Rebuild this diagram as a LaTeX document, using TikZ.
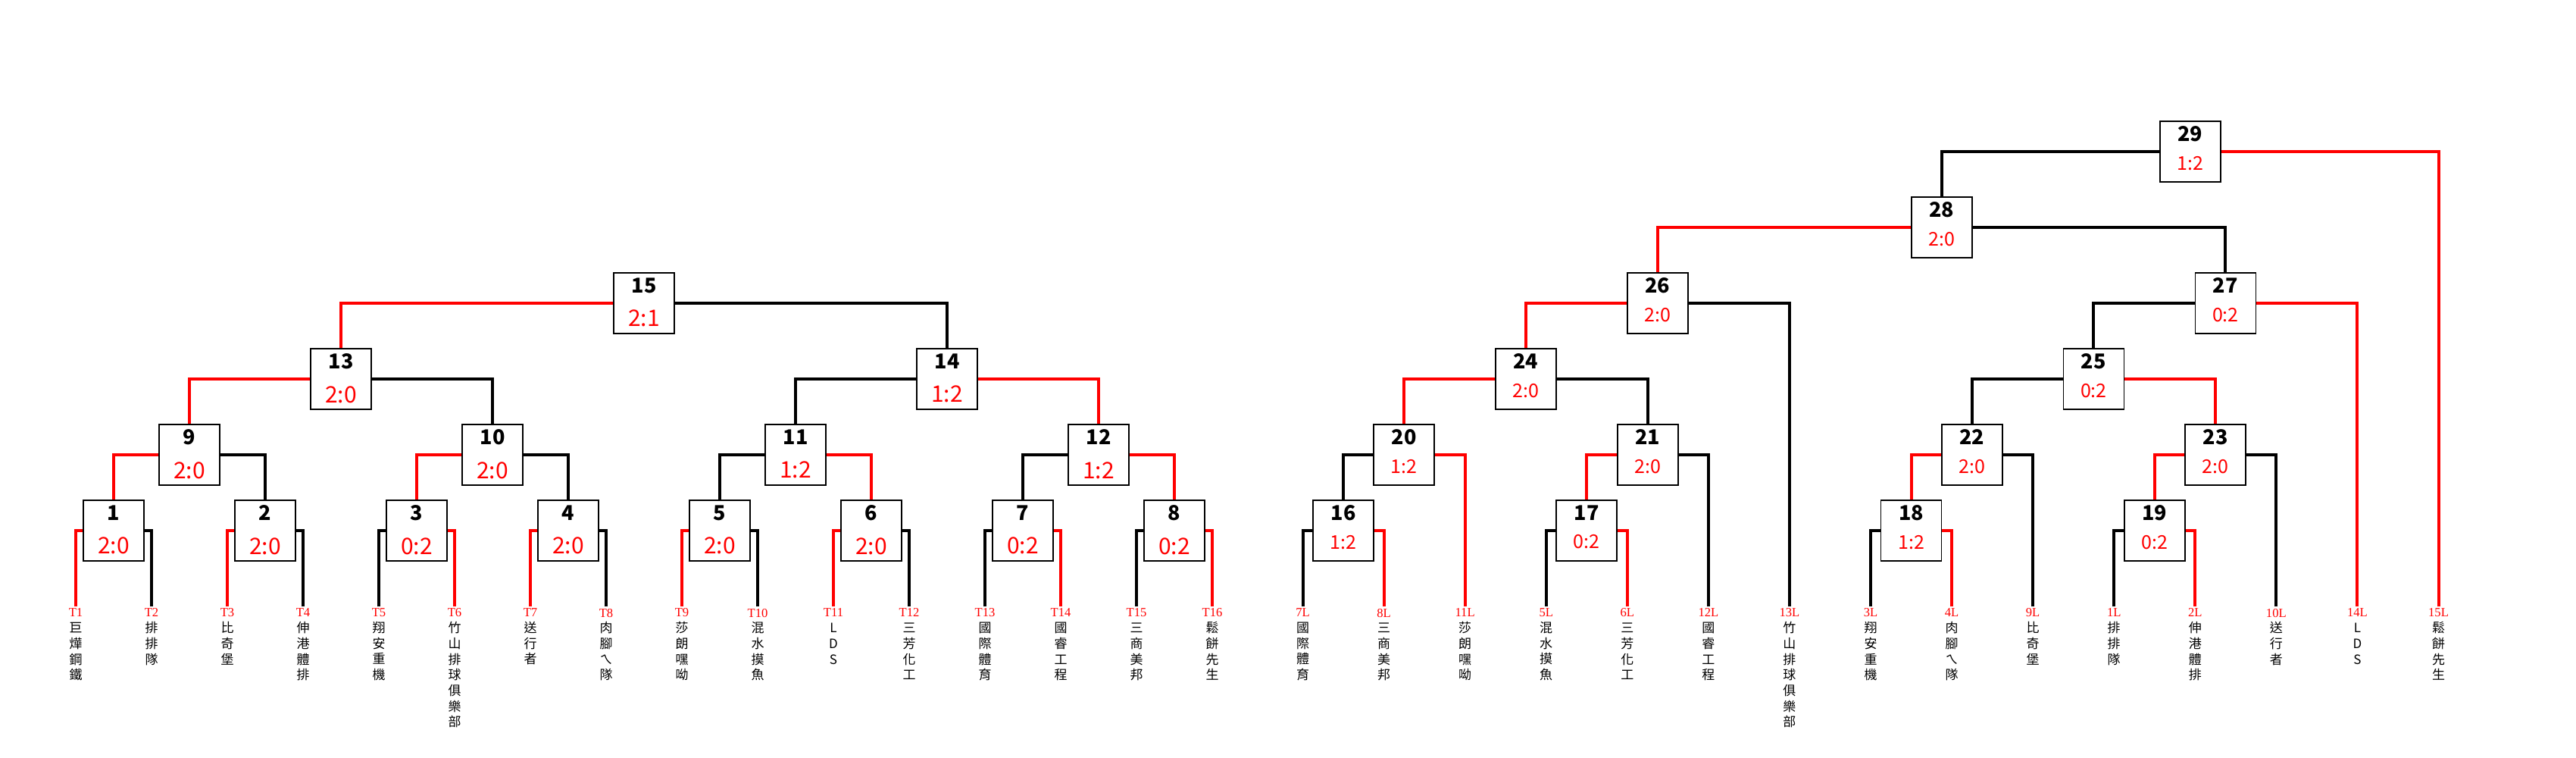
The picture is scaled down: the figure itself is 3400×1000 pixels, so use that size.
\documentclass[tikz,border=0pt]{standalone}
\usepackage{fontspec}
\newfontfamily\cjk{Noto Sans CJK TC}
\newfontfamily\idfont{Liberation Serif}

\tikzset{
  win/.style={draw=red, line width=4pt},
  lose/.style={draw=black, line width=4pt},
  match/.style={draw, line width=1.8pt, fill=white, minimum width=80pt, minimum height=80pt,
    inner sep=0pt, align=center, font=\cjk\fontsize{27}{27}\selectfont},
  wbox/.style={match, text depth=2pt},
  lbox/.style={match, text depth=9pt},
  leaf/.style={anchor=north, inner sep=0pt, outer ysep=3pt, align=center,
    font=\cjk\fontsize{17}{20.7}\selectfont},
}
\newcommand\wscore[1]{{\color{red}\fontsize{30}{30}\selectfont #1}}
\newcommand\lscore[1]{{\color{red}\fontsize{25}{25}\selectfont #1}}
\newcommand\tid[1]{{\idfont\fontsize{16.6}{20.7}\selectfont\color{red}#1}}

\begin{document}
\begin{tikzpicture}[x=1pt, y=-1pt]
    \useasboundingbox (0,0) rectangle (3400,1000);
    % winners bracket
    \begin{scope}[every node/.style={wbox}]
        \node (m1) at (150,700) {{\bfseries 1}\\[17.25pt]\wscore{2:0}};
        \node (m2) at (350,700) {{\bfseries 2}\\[17.25pt]\wscore{2:0}};
        \node (m3) at (550,700) {{\bfseries 3}\\[17.25pt]\wscore{0:2}};
        \node (m4) at (750,700) {{\bfseries 4}\\[17.25pt]\wscore{2:0}};
        \node (m5) at (950,700) {{\bfseries 5}\\[17.25pt]\wscore{2:0}};
        \node (m6) at (1150,700) {{\bfseries 6}\\[17.25pt]\wscore{2:0}};
        \node (m7) at (1350,700) {{\bfseries 7}\\[17.25pt]\wscore{0:2}};
        \node (m8) at (1550,700) {{\bfseries 8}\\[17.25pt]\wscore{0:2}};
        \node (m9) at (250,600) {{\bfseries 9}\\[17.25pt]\wscore{2:0}};
        \node (m10) at (650,600) {{\bfseries 10}\\[17.25pt]\wscore{2:0}};
        \node (m11) at (1050,600) {{\bfseries 11}\\[17.25pt]\wscore{1:2}};
        \node (m12) at (1450,600) {{\bfseries 12}\\[17.25pt]\wscore{1:2}};
        \node (m13) at (450,500) {{\bfseries 13}\\[17.25pt]\wscore{2:0}};
        \node (m14) at (1250,500) {{\bfseries 14}\\[17.25pt]\wscore{1:2}};
        \node (m15) at (850,400) {{\bfseries 15}\\[17.25pt]\wscore{2:1}};
    \end{scope}
    % losers bracket
    \begin{scope}[every node/.style={lbox}]
        \node (m16) at (1773.05,700) {{\bfseries 16}\\[10.25pt]\lscore{1:2}};
        \node (m17) at (2094.25,700) {{\bfseries 17}\\[10.25pt]\lscore{0:2}};
        \node (m18) at (2522.55,700) {{\bfseries 18}\\[10.25pt]\lscore{1:2}};
        \node (m19) at (2843.75,700) {{\bfseries 19}\\[10.25pt]\lscore{0:2}};
        \node (m20) at (1853.3,600) {{\bfseries 20}\\[10.25pt]\lscore{1:2}};
        \node (m21) at (2174.6,600) {{\bfseries 21}\\[10.25pt]\lscore{2:0}};
        \node (m22) at (2602.8,600) {{\bfseries 22}\\[10.25pt]\lscore{2:0}};
        \node (m23) at (2924,600) {{\bfseries 23}\\[10.25pt]\lscore{2:0}};
        \node (m24) at (2013.95,500) {{\bfseries 24}\\[10.25pt]\lscore{2:0}};
        \node (m25) at (2763.4,500) {{\bfseries 25}\\[10.25pt]\lscore{0:2}};
        \node (m26) at (2187.9,400) {{\bfseries 26}\\[10.25pt]\lscore{2:0}};
        \node (m27) at (2937.4,400) {{\bfseries 27}\\[10.25pt]\lscore{0:2}};
        \node (m28) at (2562.65,300) {{\bfseries 28}\\[10.25pt]\lscore{2:0}};
        \node (m29) at (2890.6,200) {{\bfseries 29}\\[10.25pt]\lscore{1:2}};
    \end{scope}
    % teams
    \begin{scope}[every node/.style={leaf}]
        \node (t1) at (100,800) {\tid{T1}\\巨\\燁\\鋼\\鐵};
        \node (t2) at (200,800) {\tid{T2}\\排\\排\\隊};
        \node (t3) at (300,800) {\tid{T3}\\比\\奇\\堡};
        \node (t4) at (400,800) {\tid{T4}\\伸\\港\\體\\排};
        \node (t5) at (500,800) {\tid{T5}\\翔\\安\\重\\機};
        \node (t6) at (600,800) {\tid{T6}\\竹\\山\\排\\球\\俱\\樂\\部};
        \node (t7) at (700,800) {\tid{T7}\\送\\行\\者};
        \node (t8) at (800,800) {\tid{T8}\\肉\\腳\\ㄟ\\隊};
        \node (t9) at (900,800) {\tid{T9}\\莎\\朗\\嘿\\呦};
        \node (t10) at (1000,800) {\tid{T10}\\混\\水\\摸\\魚};
        \node (t11) at (1100,800) {\tid{T11}\\L\\D\\S};
        \node (t12) at (1200,800) {\tid{T12}\\三\\芳\\化\\工};
        \node (t13) at (1300,800) {\tid{T13}\\國\\際\\體\\育};
        \node (t14) at (1400,800) {\tid{T14}\\國\\睿\\工\\程};
        \node (t15) at (1500,800) {\tid{T15}\\三\\商\\美\\邦};
        \node (t16) at (1600,800) {\tid{T16}\\鬆\\餅\\先\\生};
        \node (l7) at (1719.5,800) {\tid{7L}\\國\\際\\體\\育};
        \node (l8) at (1826.6,800) {\tid{8L}\\三\\商\\美\\邦};
        \node (l11) at (1933.6,800) {\tid{11L}\\莎\\朗\\嘿\\呦};
        \node (l5) at (2040.7,800) {\tid{5L}\\混\\水\\摸\\魚};
        \node (l6) at (2147.8,800) {\tid{6L}\\三\\芳\\化\\工};
        \node (l12) at (2254.9,800) {\tid{12L}\\國\\睿\\工\\程};
        \node (l13) at (2361.9,800) {\tid{13L}\\竹\\山\\排\\球\\俱\\樂\\部};
        \node (l3) at (2469,800) {\tid{3L}\\翔\\安\\重\\機};
        \node (l4) at (2576.1,800) {\tid{4L}\\肉\\腳\\ㄟ\\隊};
        \node (l9) at (2683.1,800) {\tid{9L}\\比\\奇\\堡};
        \node (l1) at (2790.2,800) {\tid{1L}\\排\\排\\隊};
        \node (l2) at (2897.3,800) {\tid{2L}\\伸\\港\\體\\排};
        \node (l10) at (3004.3,800) {\tid{10L}\\送\\行\\者};
        \node (l14) at (3111.4,800) {\tid{14L}\\L\\D\\S};
        \node (l15) at (3218.5,800) {\tid{15L}\\鬆\\餅\\先\\生};
    \end{scope}
    % winners lines
    \draw[win] (t1.north) |- (m1.west);
    \draw[lose] (t2.north) |- (m1.east);
    \draw[win] (t3.north) |- (m2.west);
    \draw[lose] (t4.north) |- (m2.east);
    \draw[lose] (t5.north) |- (m3.west);
    \draw[win] (t6.north) |- (m3.east);
    \draw[win] (t7.north) |- (m4.west);
    \draw[lose] (t8.north) |- (m4.east);
    \draw[win] (t9.north) |- (m5.west);
    \draw[lose] (t10.north) |- (m5.east);
    \draw[win] (t11.north) |- (m6.west);
    \draw[lose] (t12.north) |- (m6.east);
    \draw[lose] (t13.north) |- (m7.west);
    \draw[win] (t14.north) |- (m7.east);
    \draw[lose] (t15.north) |- (m8.west);
    \draw[win] (t16.north) |- (m8.east);
    \draw[win] (m1.north) |- (m9.west);
    \draw[lose] (m2.north) |- (m9.east);
    \draw[win] (m3.north) |- (m10.west);
    \draw[lose] (m4.north) |- (m10.east);
    \draw[lose] (m5.north) |- (m11.west);
    \draw[win] (m6.north) |- (m11.east);
    \draw[lose] (m7.north) |- (m12.west);
    \draw[win] (m8.north) |- (m12.east);
    \draw[win] (m9.north) |- (m13.west);
    \draw[lose] (m10.north) |- (m13.east);
    \draw[lose] (m11.north) |- (m14.west);
    \draw[win] (m12.north) |- (m14.east);
    \draw[win] (m13.north) |- (m15.west);
    \draw[lose] (m14.north) |- (m15.east);
    % losers lines
    \draw[lose] (l7.north) |- (m16.west);
    \draw[win] (l8.north) |- (m16.east);
    \draw[lose] (m16.north) |- (m20.west);
    \draw[win] (l11.north) |- (m20.east);
    \draw[lose] (l5.north) |- (m17.west);
    \draw[win] (l6.north) |- (m17.east);
    \draw[win] (m17.north) |- (m21.west);
    \draw[lose] (l12.north) |- (m21.east);
    \draw[win] (m20.north) |- (m24.west);
    \draw[lose] (m21.north) |- (m24.east);
    \draw[win] (m24.north) |- (m26.west);
    \draw[lose] (l13.north) |- (m26.east);
    \draw[lose] (l3.north) |- (m18.west);
    \draw[win] (l4.north) |- (m18.east);
    \draw[win] (m18.north) |- (m22.west);
    \draw[lose] (l9.north) |- (m22.east);
    \draw[lose] (l1.north) |- (m19.west);
    \draw[win] (l2.north) |- (m19.east);
    \draw[win] (m19.north) |- (m23.west);
    \draw[lose] (l10.north) |- (m23.east);
    \draw[lose] (m22.north) |- (m25.west);
    \draw[win] (m23.north) |- (m25.east);
    \draw[lose] (m25.north) |- (m27.west);
    \draw[win] (l14.north) |- (m27.east);
    \draw[win] (m26.north) |- (m28.west);
    \draw[lose] (m27.north) |- (m28.east);
    \draw[lose] (m28.north) |- (m29.west);
    \draw[win] (l15.north) |- (m29.east);
\end{tikzpicture}
\end{document}
